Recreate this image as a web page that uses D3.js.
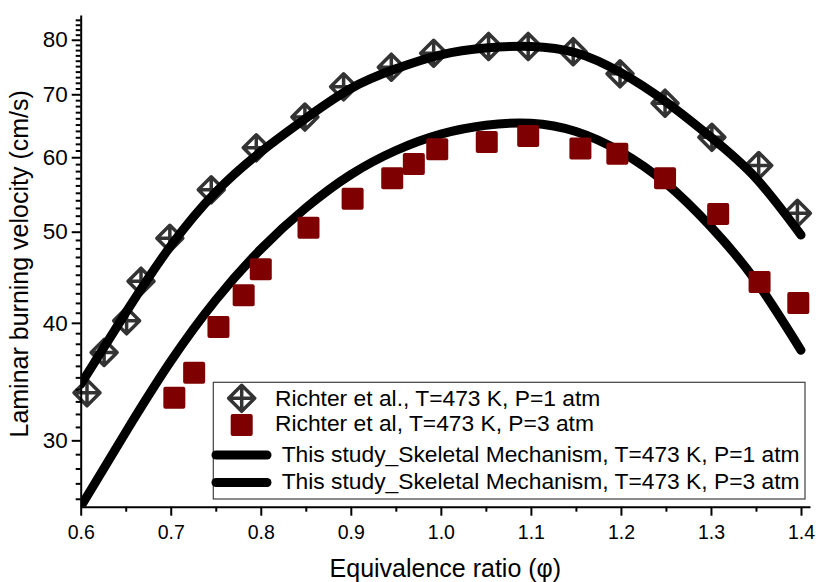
<!DOCTYPE html>
<html>
<head>
<meta charset="utf-8">
<script src="https://cdn.jsdelivr.net/npm/d3@7"></script>
<style>
  html, body { margin: 0; padding: 0; background: #fff; }
  svg { display: block; font-family: "Liberation Sans", Arial, sans-serif; }
</style>
</head>
<body>
<svg id="chart" width="816" height="582"></svg>
<script>
// ---- data ----
const richter1Phi = [0.607, 0.626, 0.651, 0.667, 0.699, 0.745, 0.795, 0.849, 0.892, 0.945, 0.992, 1.053, 1.097, 1.147, 1.199, 1.249, 1.301, 1.353, 1.396];
const richter1Su  = [33.7, 37.2, 40.2, 44.3, 49.2, 55.4, 61.4, 66.2, 71.3, 74.8, 77.4, 78.7, 78.7, 77.7, 73.6, 68.5, 63.0, 58.8, 52.3];

const richter3Phi = [0.704, 0.726, 0.753, 0.781, 0.800, 0.853, 0.902, 0.946, 0.970, 0.996, 1.051, 1.097, 1.155, 1.196, 1.249, 1.308, 1.354, 1.397];
const richter3Su  = [33.3, 35.4, 39.6, 42.8, 45.6, 50.5, 54.2, 57.0, 59.0, 61.2, 62.3, 63.2, 61.3, 60.5, 57.0, 52.2, 44.2, 42.0];

const modelPhi = [0.60, 0.65, 0.70, 0.75, 0.80, 0.85, 0.90, 0.95, 1.00, 1.05, 1.10, 1.15, 1.20, 1.25, 1.30, 1.35, 1.40];
const model1Su = [34.4, 41.0, 48.3, 55.1, 60.8, 66.0, 71.0, 74.5, 77.1, 78.4, 78.7, 77.5, 73.8, 68.7, 63.0, 57.0, 49.6];
const model3Su = [25.5, 30.6, 36.4, 42.3, 47.9, 53.0, 57.5, 61.0, 63.5, 64.9, 65.2, 63.9, 60.8, 56.3, 50.6, 44.3, 37.4];

const xTicks = [0.6, 0.7, 0.8, 0.9, 1.0, 1.1, 1.2, 1.3, 1.4];
const xMinorTicks = [0.65, 0.75, 0.85, 0.95, 1.05, 1.15, 1.25, 1.35];
const yTicks = [30, 40, 50, 60, 70, 80];
const yMinorTicks = [26,27,28,29,31,32,33,34,35,36,37,38,39,41,42,43,44,45,46,47,48,49,51,52,53,54,55,56,57,58,59,61,62,63,64,65,66,67,68,69,71,72,73,74,75,76,77,78,79,81,82,83,84];

const legendLabels = [
  "Richter et al., T=473 K, P=1 atm",
  "Richter et al, T=473 K, P=3 atm",
  "This study_Skeletal Mechanism, T=473 K, P=1 atm",
  "This study_Skeletal Mechanism, T=473 K, P=3 atm"
];
const xTitle = "Equivalence ratio (\u03c6)";
const yTitle = "Laminar burning velocity (cm/s)";

// ---- layout ----
const svg = d3.select("#chart");
const pLeft = 80.7, pRight = 810, pTop = 15, pBottom = 506.7;
const x = d3.scaleLinear().domain([0.6, 1.41]).range([pLeft, pRight]);
const y = d3.scaleLog().domain([25.5, 85]).range([pBottom, pTop]);

const red = "#7f0000";
const FONT = "Liberation Sans, Arial, sans-serif";
const markStroke = "rgba(0,0,0,0.8)";

// clip
svg.append("defs").append("clipPath").attr("id", "plotclip")
  .append("rect").attr("x", pLeft).attr("y", pTop).attr("width", pRight - pLeft).attr("height", pBottom - pTop);

// curves
const line = d3.line()
  .x(d => x(d[0])).y(d => y(d[1]))
  .curve(d3.curveNatural);

const gPlot = svg.append("g").attr("clip-path", "url(#plotclip)");
[model1Su, model3Su].forEach(vals => {
  gPlot.append("path")
    .datum(modelPhi.map((p, i) => [p, vals[i]]))
    .attr("d", line)
    .attr("fill", "none")
    .attr("stroke", "#000")
    .attr("stroke-width", 9)
    .attr("stroke-linecap", "round");
});

// diamond symbol
function diamondPath(r) {
  return `M0,${-r}L${r},0L0,${r}L${-r},0Z M0,${-r}L0,${r} M${-r},0L${r},0`;
}
const R = 13;

// squares (P=3)
svg.append("g").selectAll("rect")
  .data(richter3Phi.map((p, i) => [p, richter3Su[i]]))
  .join("rect")
  .attr("x", d => x(d[0]) - 11)
  .attr("y", d => y(d[1]) - 11)
  .attr("width", 22).attr("height", 22)
  .attr("rx", 2).attr("ry", 2)
  .attr("fill", red);

// diamonds (P=1)
svg.append("g").selectAll("path")
  .data(richter1Phi.map((p, i) => [p, richter1Su[i]]))
  .join("path")
  .attr("transform", d => `translate(${x(d[0])},${y(d[1])})`)
  .attr("d", diamondPath(R))
  .attr("fill", "none")
  .attr("stroke", markStroke)
  .attr("stroke-width", 3.5)
  .attr("stroke-linejoin", "round");

// ---- axes ----
const xAxis = d3.axisBottom(x).tickValues(xTicks).tickFormat(d3.format(".1f"))
  .tickSize(9).tickSizeOuter(0).tickPadding(9);
const gx = svg.append("g").attr("transform", `translate(0,${pBottom})`).call(xAxis);
gx.selectAll("text").attr("font-size", 19.5).attr("fill", "#000").attr("font-family", FONT);
gx.select(".domain").attr("stroke-width", 2);
gx.selectAll(".tick line").attr("stroke-width", 2);
svg.append("g").attr("transform", `translate(0,${pBottom})`)
  .call(d3.axisBottom(x).tickValues(xMinorTicks).tickSize(5).tickFormat(""))
  .call(g => g.select(".domain").remove())
  .selectAll(".tick line").attr("stroke-width", 2);

const yAxis = d3.axisLeft(y).tickValues(yTicks).tickFormat(d3.format("d"))
  .tickSize(9).tickSizeOuter(0).tickPadding(4);
const gy = svg.append("g").attr("transform", `translate(${pLeft},0)`).call(yAxis);
gy.selectAll("text").attr("font-size", 22.5).attr("fill", "#000").attr("font-family", FONT);
gy.select(".domain").attr("stroke-width", 2);
gy.selectAll(".tick line").attr("stroke-width", 2);
svg.append("g").attr("transform", `translate(${pLeft},0)`)
  .call(d3.axisLeft(y).tickValues(yMinorTicks).tickSize(5).tickFormat(""))
  .call(g => g.select(".domain").remove())
  .selectAll(".tick line").attr("stroke-width", 2);

// titles
svg.append("text")
  .attr("x", (pLeft + pRight) / 2).attr("y", 577)
  .attr("text-anchor", "middle").attr("font-size", 25).attr("fill", "#000")
  .text(xTitle);
svg.append("text")
  .attr("transform", `translate(28,${(pTop + pBottom) / 2 + 3}) rotate(-90)`)
  .attr("text-anchor", "middle").attr("font-size", 25).attr("fill", "#000")
  .text(yTitle);

// ---- legend ----
const lg = svg.append("g");
lg.append("rect")
  .attr("x", 213.3).attr("y", 382.3).attr("width", 805 - 213.3).attr("height", 499 - 382.3)
  .attr("fill", "#fff").attr("stroke", "#404040").attr("stroke-width", 1.2);

const rowY = [398.3, 425, 455, 482.5];
lg.append("path")
  .attr("transform", `translate(241.7,${rowY[0]})`)
  .attr("d", diamondPath(R))
  .attr("fill", "none").attr("stroke", markStroke).attr("stroke-width", 3.5).attr("stroke-linejoin", "round");
lg.append("rect")
  .attr("x", 241.7 - 11).attr("y", rowY[1] - 11).attr("width", 22).attr("height", 22)
  .attr("rx", 2).attr("ry", 2).attr("fill", red);
[2, 3].forEach(i => {
  lg.append("line")
    .attr("x1", 216).attr("x2", 267).attr("y1", rowY[i]).attr("y2", rowY[i])
    .attr("stroke", "#000").attr("stroke-width", 9).attr("stroke-linecap", "round");
});
const textX = [275, 275, 281.7, 281.7];
const baseY = [405.5, 431, 462, 489];
legendLabels.forEach((t, i) => {
  lg.append("text")
    .attr("x", textX[i]).attr("y", baseY[i])
    .attr("font-size", 22.8).attr("fill", "#000")
    .text(t);
});
</script>
</body>
</html>
